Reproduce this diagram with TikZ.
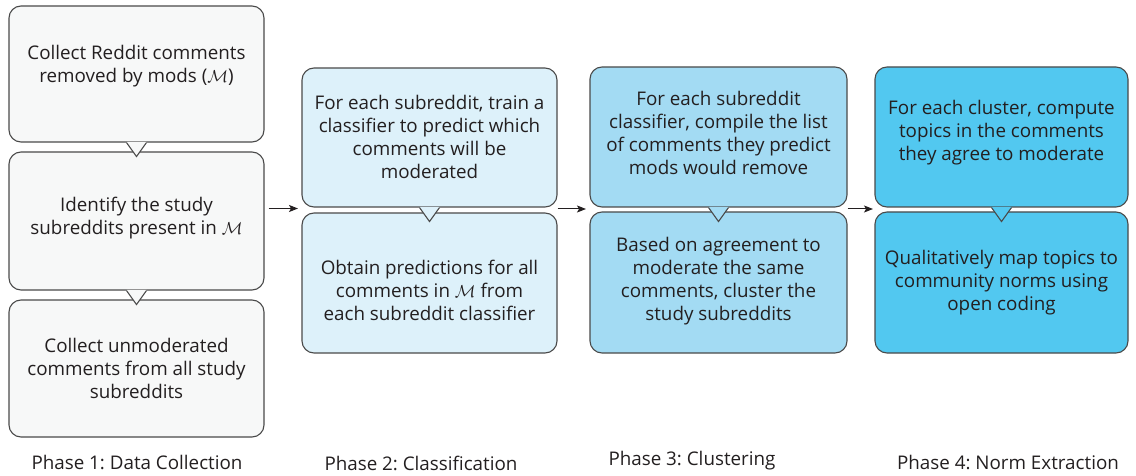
\documentclass[tikz,border=0pt]{standalone}
\usepackage{fontspec}
\setmainfont{Open Sans}
\usetikzlibrary{arrows.meta}
\frenchspacing

\definecolor{inkline}{HTML}{4A4A4A}
\definecolor{inktext}{HTML}{231F20}
\definecolor{fillA}{HTML}{F7F8F8}
\definecolor{fillB}{HTML}{DDF1FA}
\definecolor{fillC}{HTML}{A3DBF3}
\definecolor{fillD}{HTML}{52C8F0}

\tikzset{
  stagebox/.style={draw=inkline, line width=1.1pt, rounded corners=12pt,
    inner sep=0pt, fill=#1},
  stagetext/.style={align=center, text=inktext, inner sep=0pt,
    font=\fontsize{18.8}{23}\selectfont},
  phaselabel/.style={text=inktext, inner sep=0pt,
    font=\fontsize{18.8}{23}\selectfont},
  flowarrow/.style={draw=inktext, line width=1pt,
    -{Stealth[length=9pt,width=7pt,inset=2pt]}},
}

% speech-bubble pointer hanging under a box: #1 = box name, #2 = fill colour
\newcommand{\bubbletip}[2]{%
  \fill[#2] ([xshift=-10pt,yshift=0.7pt]#1.south) -- ([xshift=-10pt]#1.south)
     -- ([yshift=-14pt]#1.south) -- ([xshift=10pt]#1.south)
     -- ([xshift=10pt,yshift=0.7pt]#1.south) -- cycle;
  \draw[inkline, line width=1.1pt, line join=miter]
     ([xshift=-10pt]#1.south) -- ([yshift=-14pt]#1.south) -- ([xshift=10pt]#1.south);
}

\begin{document}
\begin{tikzpicture}[x=1pt,y=-1pt]
\useasboundingbox (0,0) rectangle (1136,476);

% ---- Phase 1 ----
\node[stagebox=fillA, minimum width=255pt, minimum height=137pt] (b13) at (136.5,368.5) {};
\node[stagebox=fillA, minimum width=255pt, minimum height=138pt] (b12) at (136.5,221) {};
\bubbletip{b12}{fillA}
\node[stagebox=fillA, minimum width=255pt, minimum height=136pt] (b11) at (136.5,74) {};
\bubbletip{b11}{fillA}
\node[stagetext] (t11) at (136.5,66) {Collect Reddit comments\\removed by mods ($\mathcal{M}$)};
\node[stagetext] (t12) at (136.5,218) {Identify the study\\subreddits present in $\mathcal{M}$};
\node[stagetext] (t13) at (136.5,368) {Collect unmoderated\\comments from all study\\subreddits};

% ---- Phase 2 ----
\node[stagebox=fillB, minimum width=255pt, minimum height=140pt] (b22) at (429.5,283) {};
\node[stagebox=fillB, minimum width=255pt, minimum height=139pt] (b21) at (429.5,137.5) {};
\bubbletip{b21}{fillB}
\node[stagetext] (t21) at (429.5,137) {For each subreddit, train a\\classifier to predict which\\comments will be\\moderated};
\node[stagetext] (t22) at (429.5,290) {Obtain predictions for all\\comments in $\mathcal{M}$ from\\each subreddit classifier};

% ---- Phase 3 ----
\node[stagebox=fillC, minimum width=257pt, minimum height=141pt] (b32) at (718.5,282.5) {};
\node[stagebox=fillC, minimum width=257pt, minimum height=140pt] (b31) at (718.5,137) {};
\bubbletip{b31}{fillC}
\node[stagetext] (t31) at (718.5,133) {For each subreddit\\classifier, compile the list\\of comments they predict\\mods would remove};
\node[stagetext] (t32) at (718.5,281) {Based on agreement to\\moderate the same\\comments, cluster the\\study subreddits};

% ---- Phase 4 ----
\node[stagebox=fillD, minimum width=253pt, minimum height=141pt] (b42) at (1001.5,282.5) {};
\node[stagebox=fillD, minimum width=253pt, minimum height=140pt] (b41) at (1001.5,137) {};
\bubbletip{b41}{fillD}
\node[stagetext] (t41) at (1001.5,133) {For each cluster, compute\\topics in the comments\\they agree to moderate};
\node[stagetext] (t42) at (1001.5,283) {Qualitatively map topics to\\community norms using\\open coding};

% ---- gaps between the two boxes of each later phase ----
\coordinate (g2) at (302,208.5);
\coordinate (g3) at (590,209);
\coordinate (g4) at (875,209);

% ---- flow arrows ----
\draw[flowarrow] ([xshift=4pt]b12.east |- g2) -- ([xshift=-4pt]g2);
\draw[flowarrow] (b21.east |- g3) -- ([xshift=-4pt]g3);
\draw[flowarrow] (b31.east |- g4) -- ([xshift=-2pt]g4);

% ---- phase captions ----
\node[phaselabel] (p1) at (137,462) {Phase 1: Data Collection};
\node[phaselabel] (p2) at (421,463) {Phase 2: Classification};
\node[phaselabel] (p3) at (692,461) {Phase 3: Clustering};
\node[phaselabel] (p4) at (1008,462) {Phase 4: Norm Extraction};
\end{tikzpicture}
\end{document}
